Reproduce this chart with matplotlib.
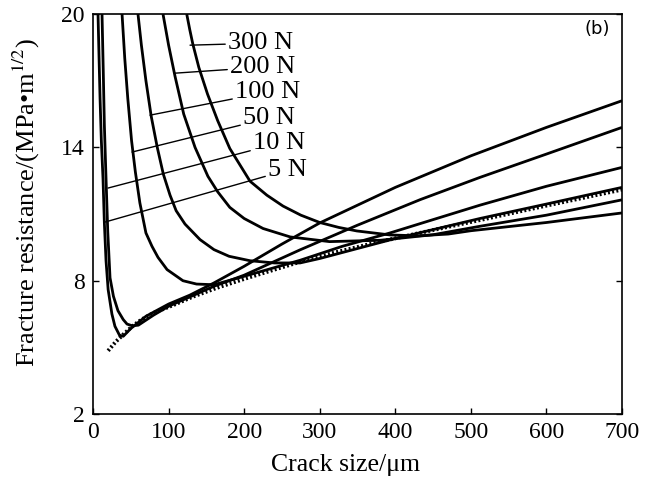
import matplotlib
matplotlib.use("Agg")
import matplotlib.pyplot as plt

plt.rcParams['font.family'] = ['Liberation Serif', 'DejaVu Serif']
plt.rcParams['mathtext.fontset'] = 'stix'

# crack size (um) / fracture resistance (MPa m^1/2)
x_5 = [6.6, 8, 9.3, 11, 13.2, 15, 17.2, 20, 25, 29, 35, 40, 50, 70, 100, 128, 160, 200, 250, 300, 400, 500, 600, 700]
y_5 = [20, 18, 16.2, 14.3, 12.6, 10.6, 8.9, 7.6, 6.5, 5.95, 5.55, 5.5, 5.85, 6.4, 6.95, 7.35, 7.9, 8.65, 9.65, 10.6, 12.2, 13.62, 14.9, 16.1]

x_10 = [11.9, 13.5, 15, 17.2, 19.5, 22.5, 27, 33, 40, 45, 52, 60, 80, 100, 130, 160, 200, 274, 350, 433, 512, 600, 700]
y_10 = [20, 17.5, 15.0, 12.6, 10.2, 8.13, 7.3, 6.65, 6.25, 6.05, 5.97, 6.0, 6.45, 6.85, 7.3, 7.75, 8.25, 9.39, 10.5, 11.65, 12.65, 13.7, 14.9]

x_50 = [38.4, 42, 46, 51, 56, 62, 70, 78, 86, 98, 119, 137, 160, 200, 274, 330, 393, 450, 512, 600, 700]
y_50 = [20, 18.0, 16.2, 14.3, 12.9, 11.5, 10.15, 9.55, 9.05, 8.5, 8.0, 7.85, 7.82, 8.2, 8.92, 9.55, 10.15, 10.75, 11.4, 12.25, 13.1]

x_100 = [59.5, 64, 70, 77, 85, 93, 101.9, 110, 121.7, 141.6, 160, 180, 207.7, 240, 274, 300, 350, 400, 450, 512, 600, 700]
y_100 = [20, 18.6, 17.0, 15.4, 14.0, 12.8, 11.85, 11.15, 10.55, 9.85, 9.4, 9.1, 8.9, 8.8, 8.8, 9.0, 9.45, 9.9, 10.3, 10.8, 11.45, 12.2]

x_200 = [92.6, 100, 108.5, 120, 135, 152, 165, 181, 200, 225, 261, 313, 380, 450, 512, 600, 700]
y_200 = [20, 18.6, 17.2, 15.5, 14.0, 12.7, 12.0, 11.3, 10.8, 10.35, 9.97, 9.76, 9.82, 10.07, 10.45, 10.95, 11.64]

x_300 = [124, 128, 132, 140, 151.5, 165, 181, 207.7, 230, 251.4, 275, 300, 325, 349, 393, 430, 470, 500, 600, 700]
y_300 = [20, 19.3, 18.66, 17.6, 16.4, 15.2, 13.95, 12.48, 11.85, 11.36, 10.95, 10.62, 10.4, 10.24, 10.06, 10.02, 10.1, 10.25, 10.62, 11.05]

x_r = [20, 30, 40, 53, 65, 80, 106, 132, 164, 200, 240, 274, 320, 380, 450, 512, 600, 700]
y_r = [4.85, 5.25, 5.58, 5.98, 6.27, 6.55, 6.9, 7.28, 7.68, 8.08, 8.5, 8.85, 9.27, 9.76, 10.28, 10.73, 11.38, 12.1]

curves = [(x_5, y_5), (x_10, y_10), (x_50, y_50), (x_100, y_100), (x_200, y_200), (x_300, y_300)]

# label text, point on curve, label position
labels = ['300 N', '200 N', '100 N', '50 N', '10 N', '5 N']
lead_from = [(128.4, 18.6), (108.5, 17.34), (75.4, 15.45), (51.6, 13.79), (19.8, 12.17), (15.9, 10.64)]
lead_to = [(178.6, 18.69), (181.3, 17.61), (187.9, 16.49), (198.5, 15.32), (211.7, 14.19), (231.6, 12.98)]

fig = plt.figure(figsize=(6.51, 4.90), dpi=100)
ax = fig.add_axes([0.1429, 0.155, 0.8126, 0.8163])

for cx, cy in curves:
    ax.plot(cx, cy, color='black', lw=2.0, solid_capstyle='butt')
ax.plot(x_r, y_r, color='black', lw=2.8, ls=(0, (0.5, 0.6)))

for lab, p0, p1 in zip(labels, lead_from, lead_to):
    ax.annotate(lab, xy=p0, xytext=p1, fontsize=19, va='center', ha='left',
                arrowprops=dict(arrowstyle='-', lw=1.0, color='black',
                                shrinkA=0, shrinkB=0))

ax.text(0.953, 0.962, '(b)', transform=ax.transAxes, ha='center', va='center',
        fontsize=13, family='DejaVu Sans')

ax.set_xlim(0, 700)
ax.set_ylim(2, 20)
ax.set_xticks(range(0, 701, 100))
ax.set_yticks([2, 8, 14, 20])
ax.tick_params(direction='in', length=4, width=1, labelsize=17, right=True, pad=6)
for s in ax.spines.values():
    s.set_linewidth(1.2)

ax.set_xlabel('Crack size/\u03bcm', fontsize=18.5)
ax.set_ylabel('Fracture resistance/(MPa\u2022m$^{1/2}$)', fontsize=19)
ax.xaxis.set_label_coords(0.478, -0.10)
ax.yaxis.set_label_coords(-0.096, 0.53)

fig.savefig('out.png', dpi=100)
